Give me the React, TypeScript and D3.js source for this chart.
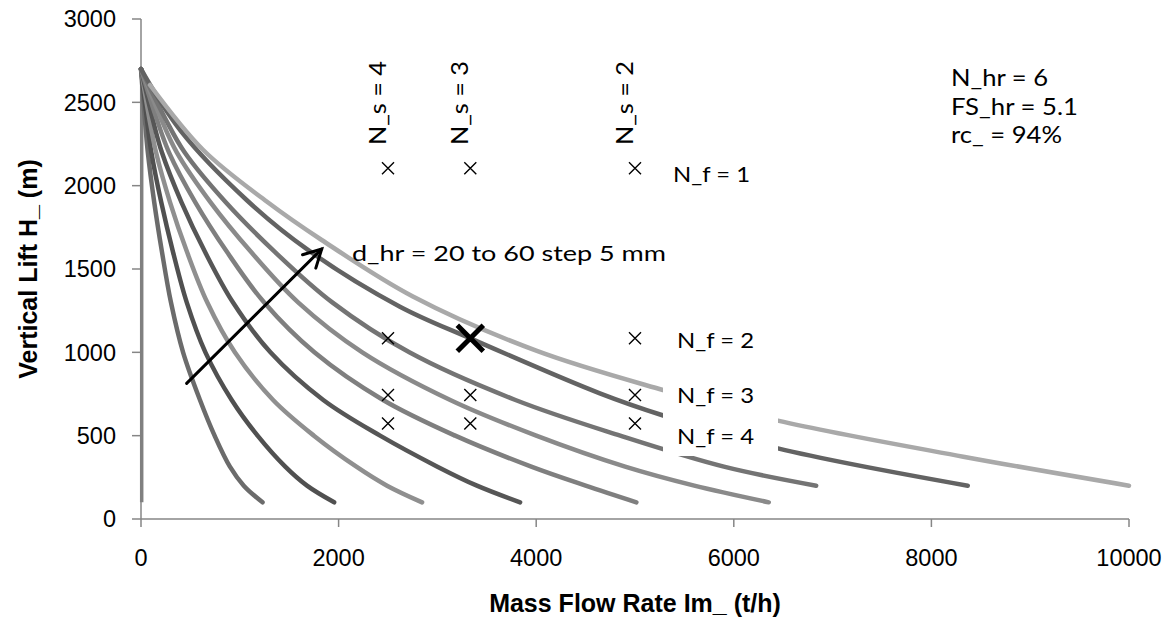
import * as d3 from "d3";

// axis ticks
const massFlowTicks = [0, 2000, 4000, 6000, 8000, 10000];
const liftTicks = [0, 500, 1000, 1500, 2000, 2500, 3000];

// lift curves, one per hoist rope diameter d_hr (mm): [mass flow t/h, vertical lift m]
const dHrLabels = [20, 25, 30, 35, 40, 45, 50, 55, 60];
const dHr20 = [[0, 2700], [39, 2400], [69, 2200], [134, 1900], [213, 1600], [303, 1300], [426, 1000], [597, 714], [745, 500], [900, 314], [1040, 200], [1230, 100]];
const dHr25 = [[0, 2700], [59, 2400], [105, 2200], [205, 1900], [325, 1600], [463, 1300], [652, 1000], [918, 714], [1180, 500], [1460, 314], [1680, 200], [1955, 100]];
const dHr30 = [[0, 2700], [85, 2400], [152, 2200], [294, 1900], [467, 1600], [670, 1300], [950, 1000], [1337, 714], [1750, 500], [2180, 314], [2490, 200], [2845, 100]];
const dHr35 = [[0, 2700], [118, 2400], [211, 2200], [410, 1900], [650, 1600], [930, 1300], [1310, 1000], [1845, 714], [2420, 500], [3000, 314], [3400, 200], [3837, 100]];
const dHr40 = [[0, 2700], [159, 2400], [283, 2200], [550, 1900], [873, 1600], [1245, 1300], [1755, 1000], [2450, 714], [3180, 500], [3950, 314], [4500, 200], [5014, 100]];
const dHr45 = [[0, 2700], [204, 2400], [362, 2200], [704, 1900], [1117, 1600], [1590, 1300], [2240, 1000], [3130, 714], [4000, 500], [4900, 314], [5600, 200], [6354, 100]];
const dHr50 = [[0, 2700], [248, 2400], [441, 2200], [858, 1900], [1360, 1600], [1936, 1300], [2716, 1000], [3790, 714], [4850, 500], [5900, 314], [6834, 200]];
const dHr55 = [[0, 2700], [400, 2330], [1069, 1914], [1700, 1610], [2621, 1274], [3333, 1084], [4644, 754], [5270, 624], [6446, 424], [8368, 200]];
const dHr60 = [[91, 2604], [630, 2214], [1272, 1905], [1829, 1674], [2752, 1335], [4000, 1010], [5282, 774], [6446, 590], [8323, 374], [10000, 200]];
const limitLine = [[7, 2706], [7, 100]];

const curves = [dHr20, dHr25, dHr30, dHr35, dHr40, dHr45, dHr50, dHr55, dHr60];
const curveColors = ["#6b6b6b", "#505050", "#8f8f8f", "#565656", "#7f7f7f", "#8a8a8a", "#747474", "#636363", "#a9a9a9"];

// design points: skip counts N_s -> mass flow, fleet N_f -> lift
const nsLabels = [4, 3, 2];
const pointFlows = [2500, 3333, 5000];
const nfLabels = [1, 2, 3, 4];
const pointLifts = [2105, 1084, 744, 573];
const chosenPoint = [3333, 1084];

const infoLines = ["N_hr = 6", "FS_hr = 5.1", "rc_ = 94%"];
const infoWidths = [97, 127, 111];

const W = 1170;
const H = 630;

export default function App() {
  const x = d3.scaleLinear().domain([0, 10000]).range([141, 1129]);
  const y = d3.scaleLinear().domain([0, 3000]).range([519, 19]);

  const line = d3
    .line<number[]>()
    .x((d) => x(d[0]))
    .y((d) => y(d[1]))
    .curve(d3.curveCatmullRom.alpha(0.5));

  const tickFont = "'Liberation Sans', Arial, sans-serif";
  const noteFont = "Lato, 'Open Sans', sans-serif";

  // arrow across the fan (data coords)
  const a0 = [x(462), y(814)];
  const a1 = [x(1829), y(1620)];
  const ang = Math.atan2(a0[1] - a1[1], a0[0] - a1[0]);
  const headLen = 20;
  const spread = (28 * Math.PI) / 180;
  const h1 = [a1[0] + headLen * Math.cos(ang + spread), a1[1] + headLen * Math.sin(ang + spread)];
  const h2 = [a1[0] + headLen * Math.cos(ang - spread), a1[1] + headLen * Math.sin(ang - spread)];

  const cross = (cx: number, cy: number, r: number) =>
    `M${cx - r},${cy - r}L${cx + r},${cy + r}M${cx - r},${cy + r}L${cx + r},${cy - r}`;

  return (
    <svg
      width={W}
      height={H}
      style={{ position: "absolute", left: 0, top: 0, background: "#fff" }}
    >
      {/* axes */}
      <g stroke="#868686" strokeWidth={1.5} fill="none">
        <line x1={x(0)} x2={x(0)} y1={y(3000)} y2={y(0)} />
        <line x1={x(0)} x2={x(10000)} y1={y(0)} y2={y(0)} />
        {liftTicks.map((t) => (
          <line key={t} x1={x(0) - 9} x2={x(0)} y1={y(t)} y2={y(t)} />
        ))}
        {massFlowTicks.map((t) => (
          <line key={t} x1={x(t)} x2={x(t)} y1={y(0)} y2={y(0) + 8} />
        ))}
      </g>
      <g fontFamily={tickFont} fill="#000">
        {liftTicks.map((t) => (
          <text key={t} x={x(0) - 25} y={y(t)} dy="0.35em" textAnchor="end" fontSize={23.5}>
            {t}
          </text>
        ))}
        {massFlowTicks.map((t) => (
          <text key={t} x={x(t)} y={566} textAnchor="middle" fontSize={23.5}>
            {t}
          </text>
        ))}
        <text x={(x(0) + x(10000)) / 2} y={612} textAnchor="middle" fontWeight="bold" fontSize={25}>
          Mass Flow Rate Im_ (t/h)
        </text>
        <text
          transform={`translate(37,${(y(0) + y(3000)) / 2}) rotate(-90)`}
          textAnchor="middle"
          fontWeight="bold"
          fontSize={25}
        >
          Vertical Lift H_ (m)
        </text>
      </g>

      {/* curves */}
      <path d={line(limitLine) ?? ""} stroke="#808080" strokeWidth={3.5} fill="none" />
      {curves.map((c, i) => (
        <path
          key={dHrLabels[i]}
          d={line(c) ?? ""}
          stroke={curveColors[i]}
          strokeWidth={4.5}
          strokeLinecap="round"
          fill="none"
        />
      ))}

      {/* design points */}
      <g stroke="#000" strokeWidth={1.4} fill="none">
        {pointLifts.map((h) =>
          pointFlows.map((m) =>
            m === chosenPoint[0] && h === chosenPoint[1] ? null : (
              <path key={`${m}-${h}`} d={cross(x(m), y(h), 6)} />
            )
          )
        )}
      </g>
      <path d={cross(x(chosenPoint[0]), y(chosenPoint[1]), 13)} stroke="#000" strokeWidth={5} fill="none" />

      {/* white label box for N_f = 3 / 4 */}
      <rect x={663} y={381} width={115} height={75} fill="#fff" />

      <g fontFamily={noteFont} fill="#000">
        {nsLabels.map((n, i) => (
          <text
            key={n}
            transform={`translate(${x(pointFlows[i]) - 2},${145}) rotate(-90)`}
            fontSize={24}
            textLength={84}
            lengthAdjust="spacingAndGlyphs"
          >
            {`N_s = ${n}`}
          </text>
        ))}
        {nfLabels.map((n, i) => (
          <text
            key={n}
            x={i === 0 ? 673 : 677}
            y={[182, 348, 403, 444][i]}
            fontSize={22}
            textLength={77}
            lengthAdjust="spacingAndGlyphs"
          >
            {`N_f = ${n}`}
          </text>
        ))}
        {infoLines.map((s, i) => (
          <text
            key={s}
            x={951}
            y={86 + i * 28.5}
            fontSize={24}
            textLength={infoWidths[i]}
            lengthAdjust="spacingAndGlyphs"
          >
            {s}
          </text>
        ))}
        <text x={352} y={261} fontSize={22} textLength={314} lengthAdjust="spacingAndGlyphs">
          d_hr = 20 to 60 step 5 mm
        </text>
      </g>

      {/* arrow */}
      <g stroke="#000" strokeWidth={3} fill="none" strokeLinecap="round">
        <line x1={a0[0]} y1={a0[1]} x2={a1[0]} y2={a1[1]} />
        <path d={`M${h1[0]},${h1[1]}L${a1[0]},${a1[1]}L${h2[0]},${h2[1]}`} />
      </g>
    </svg>
  );
}
